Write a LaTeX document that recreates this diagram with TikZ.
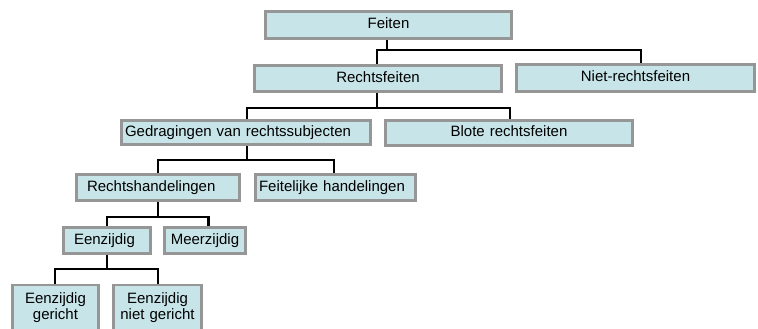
\documentclass[tikz,border=0pt]{standalone}
\usepackage{fontspec}
\setmainfont{Liberation Sans}
\definecolor{boxfill}{RGB}{199,229,233}
\definecolor{boxline}{RGB}{150,150,150}
\begin{document}
\begin{tikzpicture}[x=1pt,y=-1pt,
  box/.style={draw=boxline, fill=boxfill, line width=2.9pt, rectangle,
    font=\fontsize{15}{16}\selectfont, text height=11pt, text depth=4pt,
    inner ysep=0pt},
  conn/.style={draw=black, line width=2.4pt}]
\useasboundingbox (0,0) rectangle (758,329);
% level 1
\node[box, minimum width=246, minimum height=27, text width=240, inner xsep=3pt, align=center] (feiten) at (388.5,25) {Feiten};
% level 2
\node[box, minimum width=247, minimum height=26, text width=241, inner xsep=3pt, align=center] (rechts) at (378,78.5) {Rechtsfeiten};
\node[box, minimum width=238, minimum height=27, text width=232, inner xsep=3pt, align=center] (niet) at (635.5,78) {Niet-rechtsfeiten};
% level 3
\node[box, minimum width=249, minimum height=24, text width=242, inner xsep=3.5pt, align=left] (gedrag) at (246,132.5) {Gedragingen van rechtssubjecten};
\node[box, minimum width=247, minimum height=25, text width=241, inner xsep=3pt, align=center] (blote) at (509,133) {Blote rechtsfeiten};
% level 4
\node[box, minimum width=163, minimum height=26, text width=142, inner xsep=10.5pt, align=left] (rhand) at (158,187.5) {Rechtshandelingen};
\node[box, minimum width=160, minimum height=26, text width=153, inner xsep=3.5pt, align=left] (feitel) at (335.5,187.5) {Feitelijke handelingen};
% level 5
\node[box, minimum width=87, minimum height=26, text width=66, inner xsep=10.5pt, align=left] (eenz) at (107,240.5) {Eenzijdig};
\node[box, minimum width=81, minimum height=26, text width=75, inner xsep=3pt, align=center] (meerz) at (205,240.5) {Meerzijdig};
% level 6
\node[box, anchor=north, text width=82, inner xsep=2pt, inner ysep=7.5pt, text depth=60pt, align=center] (eg) at (55.5,283.5) {Eenzijdig\\gericht};
\node[box, anchor=north, text width=84, inner xsep=2pt, inner ysep=7.5pt, text depth=60pt, align=center] (eng) at (157.5,283.5) {Eenzijdig\\niet gericht};
% junction levels
\coordinate (h1) at (0,50);
\coordinate (h2) at (0,108);
\coordinate (h3) at (0,160);
\coordinate (h4) at (0,217);
\coordinate (h5) at (0,269);
% connectors
\draw[conn] ([xshift=-1.5pt]feiten.south) -- ([xshift=-1.5pt]feiten.south |- h1);
\draw[conn] ([xshift=-1pt]rechts.north) |- ([xshift=5.5pt]niet.north |- h1) -- ([xshift=5.5pt]niet.north);
\draw[conn] ([xshift=-1pt]rechts.south) -- ([xshift=-1pt]rechts.south |- h2);
\draw[conn] ([xshift=1pt]gedrag.north) |- ([xshift=1pt]blote.north |- h2) -- ([xshift=1pt]blote.north);
\draw[conn] ([xshift=1pt]gedrag.south) -- ([xshift=1pt]gedrag.south |- h3);
\draw[conn] (rhand.north) |- ([xshift=-1.5pt]feitel.north |- h3) -- ([xshift=-1.5pt]feitel.north);
\draw[conn] (rhand.south) -- (rhand.south |- h4);
\draw[conn] (eenz.north) |- ([xshift=3.5pt]meerz.north |- h4) -- ([xshift=3.5pt]meerz.north);
\draw[conn] (eenz.south) -- (eenz.south |- h5);
\draw[conn] ([xshift=-0.5pt]eg.north) |- ([xshift=0.5pt]eng.north |- h5) -- ([xshift=0.5pt]eng.north);
\end{tikzpicture}
\end{document}
